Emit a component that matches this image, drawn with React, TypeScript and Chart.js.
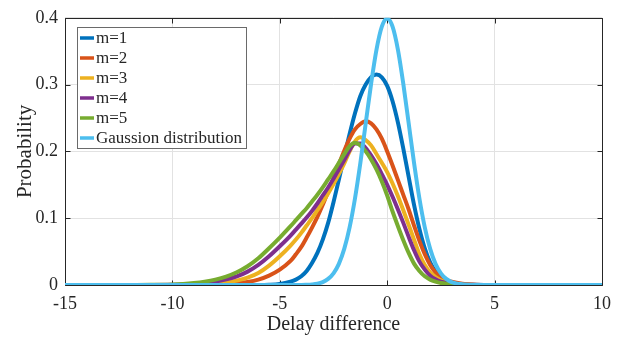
import React, { useEffect, useRef } from "react";
import { Chart, registerables } from "chart.js";

Chart.register(...registerables);

// Shared x grid (delay difference)
const delayX = [
  -15, -14, -13, -12, -11, -10, -9.5, -9, -8.5, -8, -7.5, -7, -6.5, -6, -5.5, -5,
  -4.5, -4.25, -4, -3.75, -3.5, -3.25, -3, -2.75, -2.5, -2.25, -2, -1.75, -1.5, -1.25, -1,
  -0.75, -0.5, -0.25, 0, 0.25, 0.5, 0.75, 1, 1.25, 1.5, 1.75, 2, 2.25, 2.5, 2.75, 3,
  3.5, 4, 4.5, 5, 6, 7, 8, 9, 10,
];

const m1 = [
  0, 0, 0, 0, 0, 0, 0, 0, 0, 0, 0, 0, 0, 0, 0.0003, 0.0015,
  0.005, 0.008, 0.013, 0.021, 0.033, 0.048, 0.068, 0.093, 0.124, 0.158, 0.192, 0.226, 0.257, 0.283, 0.3,
  0.311, 0.315, 0.311, 0.298, 0.275, 0.243, 0.204, 0.162, 0.12, 0.084, 0.055, 0.034, 0.02, 0.011, 0.0055, 0.0028,
  0.0007, 0.0002, 0, 0, 0, 0, 0, 0, 0,
];

const m2 = [
  0, 0, 0, 0, 0, 0, 0, 0.0001, 0.0002, 0.0005, 0.0012, 0.0025, 0.0045, 0.008, 0.014, 0.023,
  0.036, 0.046, 0.057, 0.071, 0.086, 0.102, 0.12, 0.14, 0.16, 0.181, 0.201, 0.219, 0.233, 0.241, 0.245,
  0.242, 0.233, 0.219, 0.2, 0.179, 0.157, 0.135, 0.113, 0.089, 0.066, 0.046, 0.03, 0.019, 0.012, 0.0075, 0.0048,
  0.0018, 0.0005, 0.0001, 0, 0, 0, 0, 0, 0,
];

const m3 = [
  0, 0, 0, 0, 0, 0, 0.0002, 0.0004, 0.0009, 0.0018, 0.0038, 0.0065, 0.011, 0.018, 0.029, 0.043,
  0.059, 0.068, 0.078, 0.089, 0.1, 0.112, 0.124, 0.137, 0.151, 0.166, 0.182, 0.2, 0.215, 0.221, 0.217,
  0.209, 0.196, 0.183, 0.169, 0.152, 0.133, 0.112, 0.09, 0.068, 0.046, 0.03, 0.019, 0.012, 0.007, 0.0045, 0.0028,
  0.001, 0.0003, 0.0001, 0, 0, 0, 0, 0, 0,
];

const m4 = [
  0, 0, 0, 0, 0.0001, 0.0004, 0.0008, 0.0016, 0.003, 0.0052, 0.0085, 0.013, 0.02, 0.03, 0.043, 0.058,
  0.074, 0.083, 0.092, 0.101, 0.111, 0.122, 0.134, 0.146, 0.159, 0.173, 0.187, 0.202, 0.212, 0.212, 0.205,
  0.194, 0.181, 0.166, 0.15, 0.132, 0.113, 0.093, 0.072, 0.052, 0.035, 0.023, 0.014, 0.0085, 0.005, 0.003, 0.0018,
  0.0006, 0.0002, 0, 0, 0, 0, 0, 0, 0,
];

const m5 = [
  0, 0, 0, 0.0001, 0.0002, 0.0008, 0.0016, 0.003, 0.005, 0.008, 0.0125, 0.019, 0.028, 0.04, 0.055, 0.071,
  0.088, 0.097, 0.106, 0.115, 0.125, 0.135, 0.146, 0.158, 0.17, 0.183, 0.196, 0.208, 0.213, 0.209, 0.2,
  0.188, 0.173, 0.155, 0.134, 0.11, 0.088, 0.067, 0.048, 0.032, 0.021, 0.013, 0.008, 0.005, 0.003, 0.0018, 0.001,
  0.0003, 0.0001, 0, 0, 0, 0, 0, 0, 0,
];

const gaussian = [
  0, 0, 0, 0, 0, 0, 0, 0, 0, 0, 0, 0, 0, 0, 0, 0,
  0, 0.0001, 0.0001, 0.0004, 0.0009, 0.002, 0.0044, 0.0091, 0.0175, 0.0317, 0.054, 0.0863, 0.1295, 0.1826, 0.242,
  0.3011, 0.3521, 0.3867, 0.3989, 0.3867, 0.3521, 0.3011, 0.242, 0.1826, 0.1295, 0.0863, 0.054, 0.0317, 0.0175, 0.0091, 0.0044,
  0.0009, 0.0001, 0, 0, 0, 0, 0, 0, 0,
];

const seriesValues = [m1, m2, m3, m4, m5, gaussian];
const seriesLabels = ["m=1", "m=2", "m=3", "m=4", "m=5", "Gaussion distribution"];
const seriesColors = ["#0072BD", "#D95319", "#EDB120", "#7E2F8E", "#77AC30", "#4DBEEE"];

const xTickValues = [-15, -10, -5, 0, 5, 10];
const xTickLabels = ["-15", "-10", "-5", "0", "5", "10"];
const yTickValues = [0, 0.1, 0.2, 0.3, 0.4];
const yTickLabels = ["0", "0.1", "0.2", "0.3", "0.4"];

const FONT = '"Liberation Serif", "Times New Roman", serif';
const AXIS_COLOR = "#262626";

const framePlugin = {
  id: "matlabFrame",
  beforeDatasetsDraw(chart: any) {
    const { ctx, chartArea, scales } = chart;
    const l = Math.round(chartArea.left) + 0.5;
    const r = Math.round(chartArea.right) + 0.5;
    const t = Math.round(chartArea.top) + 0.5;
    const b = Math.round(chartArea.bottom) + 0.5;
    ctx.save();
    ctx.strokeStyle = AXIS_COLOR;
    ctx.lineWidth = 1;
    ctx.beginPath();
    ctx.rect(l, t, r - l, b - t);
    const tl = 5;
    xTickValues.forEach((v) => {
      const px = Math.round(scales.x.getPixelForValue(v)) + 0.5;
      ctx.moveTo(px, b);
      ctx.lineTo(px, b - tl);
      ctx.moveTo(px, t);
      ctx.lineTo(px, t + tl);
    });
    yTickValues.forEach((v) => {
      const py = Math.round(scales.y.getPixelForValue(v)) + 0.5;
      ctx.moveTo(l, py);
      ctx.lineTo(l + tl, py);
      ctx.moveTo(r, py);
      ctx.lineTo(r - tl, py);
    });
    ctx.stroke();
    ctx.restore();
  },
};

const legendPlugin = {
  id: "matlabLegend",
  afterDatasetsDraw(chart: any) {
    const { ctx, chartArea } = chart;
    const bx = Math.round(chartArea.left) + 12;
    const by = Math.round(chartArea.top) + 9;
    const bw = 169;
    const bh = 121;
    ctx.save();
    ctx.fillStyle = "#ffffff";
    ctx.fillRect(bx, by, bw, bh);
    ctx.strokeStyle = "#6a6a6a";
    ctx.lineWidth = 1;
    ctx.strokeRect(bx + 0.5, by + 0.5, bw, bh);
    ctx.font = `17px ${FONT}`;
    ctx.textBaseline = "middle";
    ctx.textAlign = "left";
    chart.data.datasets.forEach((ds: any, i: number) => {
      const yy = by + 11 + i * 20;
      ctx.strokeStyle = ds.borderColor;
      ctx.lineWidth = 3.5;
      ctx.beginPath();
      ctx.moveTo(bx + 3, yy);
      ctx.lineTo(bx + 17, yy);
      ctx.stroke();
      ctx.fillStyle = AXIS_COLOR;
      ctx.fillText(ds.label, bx + 19, yy + 0.5);
    });
    ctx.restore();
  },
};

export default function App() {
  const canvasRef = useRef<HTMLCanvasElement | null>(null);

  useEffect(() => {
    if (!canvasRef.current) return;
    const datasets = seriesValues.map((vals, i) => ({
      label: seriesLabels[i],
      data: delayX.map((x, j) => ({ x, y: vals[j] })),
      borderColor: seriesColors[i],
      backgroundColor: seriesColors[i],
      borderWidth: 4,
      pointRadius: 0,
      fill: false,
      cubicInterpolationMode: "monotone" as const,
      order: seriesValues.length - i,
    }));

    const chart = new Chart(canvasRef.current, {
      type: "line",
      data: { datasets },
      options: {
        animation: false,
        responsive: false,
        maintainAspectRatio: false,
        layout: { padding: { left: 0, right: 31, top: 15, bottom: 0 } },
        plugins: {
          legend: { display: false },
          tooltip: { enabled: false },
        },
        scales: {
          x: {
            type: "linear",
            min: -15,
            max: 10,
            ticks: {
              stepSize: 5,
              autoSkip: false,
              maxRotation: 0,
              padding: 8,
              color: AXIS_COLOR,
              font: { family: FONT, size: 18 },
              callback: (_v: any, idx: number) => xTickLabels[idx],
            },
            grid: { color: "#e2e2e2", drawTicks: false, lineWidth: 1 },
            border: { display: false },
            title: {
              display: true,
              text: "Delay difference",
              color: AXIS_COLOR,
              font: { family: FONT, size: 20 },
              padding: { top: 0, bottom: 0 },
            },
            afterFit: (scale: any) => {
              scale.height = 52;
            },
          },
          y: {
            type: "linear",
            min: 0,
            max: 0.4,
            ticks: {
              stepSize: 0.1,
              padding: 7,
              color: AXIS_COLOR,
              font: { family: FONT, size: 18 },
              callback: (_v: any, idx: number) => yTickLabels[idx],
            },
            grid: { color: "#e2e2e2", drawTicks: false, lineWidth: 1 },
            border: { display: false },
            title: {
              display: true,
              text: "Probability",
              color: AXIS_COLOR,
              font: { family: FONT, size: 21 },
              padding: { top: 13, bottom: 0 },
            },
            afterFit: (scale: any) => {
              scale.width = 65;
            },
          },
        },
      },
      plugins: [framePlugin, legendPlugin],
    });
    return () => chart.destroy();
  }, []);

  return (
    <div style={{ position: "fixed", left: 0, top: 0, width: 633, height: 337, background: "#ffffff" }}>
      <canvas ref={canvasRef} width={633} height={337} style={{ width: 633, height: 337, display: "block" }} />
    </div>
  );
}
